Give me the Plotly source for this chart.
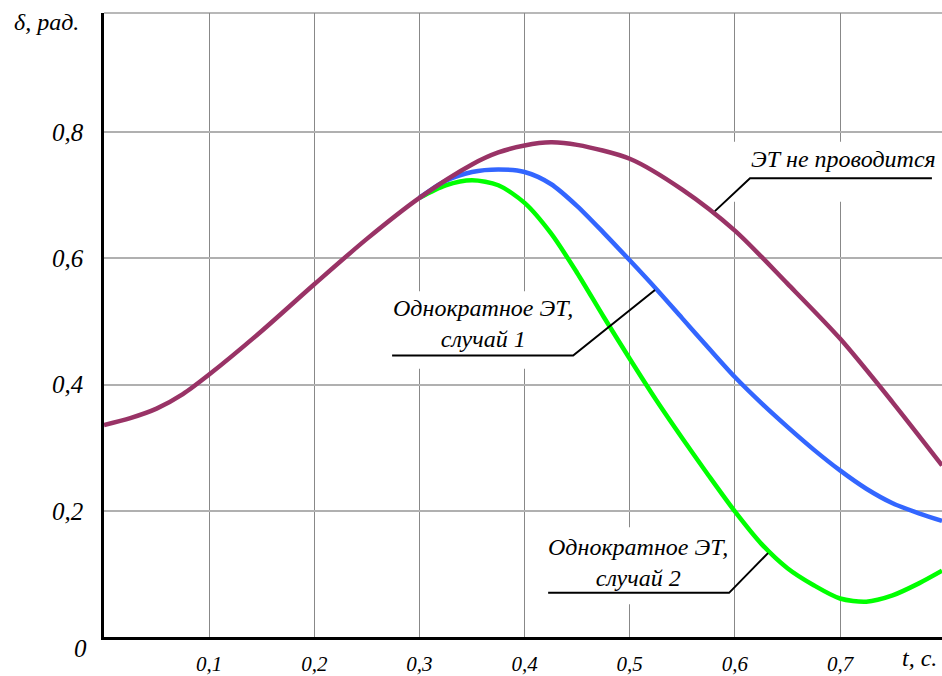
import plotly.graph_objects as go

# ---- data ----
t_base = [0, 0.025, 0.05, 0.075, 0.1, 0.15, 0.2, 0.25, 0.3, 0.35, 0.375, 0.4, 0.425, 0.45, 0.5, 0.55, 0.6, 0.65, 0.7, 0.75, 0.797]
d_base = [0.336, 0.347, 0.362, 0.385, 0.416, 0.485, 0.559, 0.631, 0.696, 0.749, 0.768, 0.779, 0.784, 0.780, 0.758, 0.709, 0.644, 0.560, 0.473, 0.372, 0.272]

t_case1 = [0.30, 0.325, 0.35, 0.375, 0.4, 0.425, 0.45, 0.475, 0.5, 0.525, 0.55, 0.575, 0.6, 0.625, 0.65, 0.675, 0.7, 0.725, 0.75, 0.775, 0.797]
d_case1 = [0.696, 0.723, 0.737, 0.741, 0.737, 0.718, 0.683, 0.641, 0.597, 0.552, 0.505, 0.458, 0.412, 0.371, 0.333, 0.297, 0.264, 0.235, 0.212, 0.196, 0.184]

t_case2 = [0.30, 0.325, 0.35, 0.375, 0.4, 0.425, 0.45, 0.475, 0.5, 0.525, 0.55, 0.575, 0.6, 0.625, 0.65, 0.675, 0.7, 0.725, 0.75, 0.775, 0.797]
d_case2 = [0.696, 0.716, 0.724, 0.716, 0.688, 0.640, 0.577, 0.508, 0.441, 0.376, 0.315, 0.256, 0.199, 0.148, 0.109, 0.082, 0.061, 0.056, 0.066, 0.085, 0.105]

x_ticks = [0.1, 0.2, 0.3, 0.4, 0.5, 0.6, 0.7]
x_tick_text = ["0,1", "0,2", "0,3", "0,4", "0,5", "0,6", "0,7"]
y_ticks = [0.2, 0.4, 0.6, 0.8]
y_tick_text = ["0,2", "0,4", "0,6", "0,8"]

label_base = "ЭТ не проводится"
label_case1 = "Однократное ЭТ,<br>случай 1"
label_case2 = "Однократное ЭТ,<br>случай 2"

FONT = "Liberation Serif"
C_BASE = "#993366"
C_C1 = "#3366FF"
C_C2 = "#00FF00"

fig = go.Figure()
line_kw = dict(width=4.5, shape="spline", smoothing=0.8)
fig.add_trace(go.Scatter(x=t_case2, y=d_case2, mode="lines", line=dict(color=C_C2, **line_kw), hoverinfo="skip"))
fig.add_trace(go.Scatter(x=t_case1, y=d_case1, mode="lines", line=dict(color=C_C1, **line_kw), hoverinfo="skip"))
fig.add_trace(go.Scatter(x=t_base, y=d_base, mode="lines", line=dict(color=C_BASE, **line_kw), hoverinfo="skip"))

shapes = []
# white label backgrounds (between grid and traces)
for x0, x1, y0, y1 in [(0.595, 0.797, 0.69, 0.785), (0.274, 0.448, 0.425, 0.548), (0.420, 0.595, 0.052, 0.174)]:
    shapes.append(dict(type="rect", xref="x", yref="y", x0=x0, x1=x1, y0=y0, y1=y1,
                       fillcolor="white", line=dict(width=0), layer="between"))

def leader(pts):
    path = "M " + " L ".join(f"{a},{b}" for a, b in pts)
    shapes.append(dict(type="path", xref="x", yref="y", path=path, line=dict(color="black", width=2), layer="above"))

leader([(0.7874, 0.727), (0.6144, 0.727), (0.581, 0.675)])
leader([(0.274, 0.446), (0.4462, 0.446), (0.524, 0.550)])
leader([(0.4224, 0.070), (0.5945, 0.070), (0.6315, 0.133)])
# top border
shapes.append(dict(type="line", xref="paper", yref="paper", x0=0, x1=1, y0=1, y1=1,
                   line=dict(color="#a0a0a0", width=1.5), layer="below"))

ann_font = dict(family=FONT, size=24, color="black", style="italic")
annotations = [
    dict(x=0.703, y=0.757, xref="x", yref="y", text=label_base, showarrow=False, font=ann_font, xanchor="center", yanchor="middle"),
    dict(x=0.360, y=0.497, xref="x", yref="y", text=label_case1, showarrow=False, font=ann_font, xanchor="center", yanchor="middle"),
    dict(x=0.508, y=0.118, xref="x", yref="y", text=label_case2, showarrow=False, font=ann_font, xanchor="center", yanchor="middle"),
    dict(x=-0.0286, y=-0.018, xref="paper", yref="paper", text="0", showarrow=False,
         font=dict(family=FONT, size=25, color="black", style="italic"), xanchor="center", yanchor="middle"),
    dict(x=0.9726, y=-0.034, xref="paper", yref="paper", text="t, c.", showarrow=False,
         font=dict(family=FONT, size=24, color="black", style="italic"), xanchor="center", yanchor="middle"),
    dict(x=-0.1098, y=0.9857, xref="paper", yref="paper", text="δ, рад.", showarrow=False,
         font=dict(family=FONT, size=24, color="black", style="italic"), xanchor="left", yanchor="middle"),
]

fig.update_layout(
    width=942, height=676,
    margin=dict(l=104, r=0, t=13, b=33),
    paper_bgcolor="white", plot_bgcolor="white",
    showlegend=False,
    shapes=shapes,
    annotations=annotations,
    xaxis=dict(range=[0, 0.797], tickvals=x_ticks, ticktext=x_tick_text,
               showgrid=True, gridcolor="#888888", gridwidth=1,
               showline=True, linecolor="black", linewidth=2.5,
               zeroline=False, ticks="", ticklabelstandoff=6,
               tickfont=dict(family=FONT, size=21, color="black", style="italic")),
    yaxis=dict(range=[0, 0.989], tickvals=y_ticks, ticktext=y_tick_text,
               showgrid=True, gridcolor="#b0b0b0", gridwidth=1.5,
               showline=True, linecolor="black", linewidth=2.5,
               zeroline=False, ticks="", ticklabelstandoff=13,
               tickfont=dict(family=FONT, size=25, color="black", style="italic")),
)

fig.write_html("out.html")
